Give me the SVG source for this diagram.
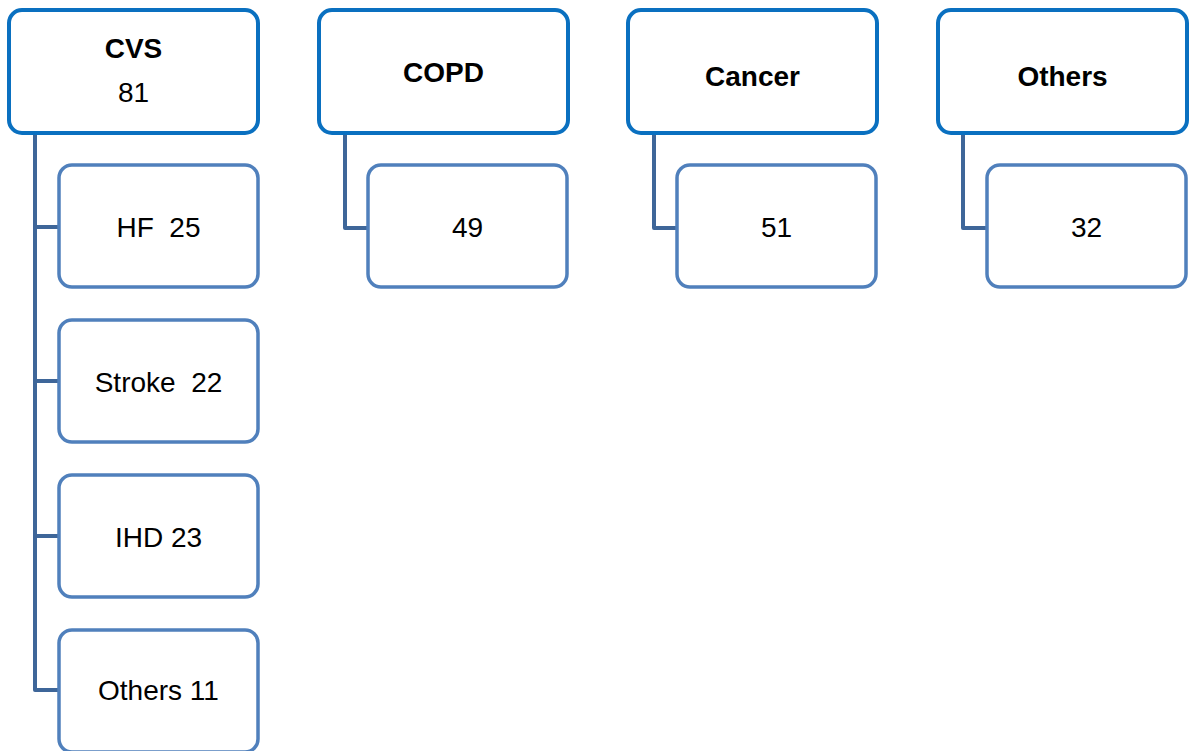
<svg xmlns="http://www.w3.org/2000/svg" width="1192" height="751" viewBox="0 0 1192 751">
<style>
.p{fill:#fff;stroke:#0A70C0;stroke-width:4}
.c{fill:#fff;stroke:#5080BC;stroke-width:3.5}
.k{fill:none;stroke:#3E6699;stroke-width:4;stroke-linejoin:round}
text{font-family:"Liberation Sans",Arial,sans-serif;font-size:28px;fill:#000;text-anchor:middle}
.b{font-weight:bold}
</style>
<rect width="1192" height="751" fill="#fff"/>
<g id="connectors">
<path class="k" d="M35 135V690H59"/>
<path class="k" d="M35 227H59"/>
<path class="k" d="M35 381H59"/>
<path class="k" d="M35 536H59"/>
<path class="k" d="M345 135V228H368"/>
<path class="k" d="M654 135V228H677"/>
<path class="k" d="M963 135V228H987"/>
</g>
<g id="cvs"><rect class="p" x="9" y="10" width="249" height="123" rx="13"/><text class="b" x="133.5" y="58">CVS</text><text x="133.5" y="102">81</text></g>
<g id="hf"><rect class="c" x="59" y="165" width="199" height="122" rx="13"/><text x="158.5" y="237" xml:space="preserve">HF  25</text></g>
<g id="stroke"><rect class="c" x="59" y="320" width="199" height="122" rx="13"/><text x="158.5" y="392" xml:space="preserve">Stroke  22</text></g>
<g id="ihd"><rect class="c" x="59" y="475" width="199" height="122" rx="13"/><text x="158.5" y="547">IHD 23</text></g>
<g id="cvs-others"><rect class="c" x="59" y="630" width="199" height="122" rx="13"/><text x="158.5" y="700">Others 11</text></g>
<g id="copd"><rect class="p" x="319" y="10" width="249" height="123" rx="13"/><text class="b" x="443.5" y="82">COPD</text></g>
<g id="copd-n"><rect class="c" x="368" y="165" width="199" height="122" rx="13"/><text x="467.5" y="237">49</text></g>
<g id="cancer"><rect class="p" x="628" y="10" width="249" height="123" rx="13"/><text class="b" x="752.5" y="86">Cancer</text></g>
<g id="cancer-n"><rect class="c" x="677" y="165" width="199" height="122" rx="13"/><text x="776.5" y="237">51</text></g>
<g id="others"><rect class="p" x="938" y="10" width="249" height="123" rx="13"/><text class="b" x="1062.5" y="86">Others</text></g>
<g id="others-n"><rect class="c" x="987" y="165" width="199" height="122" rx="13"/><text x="1086.5" y="237">32</text></g>
</svg>
